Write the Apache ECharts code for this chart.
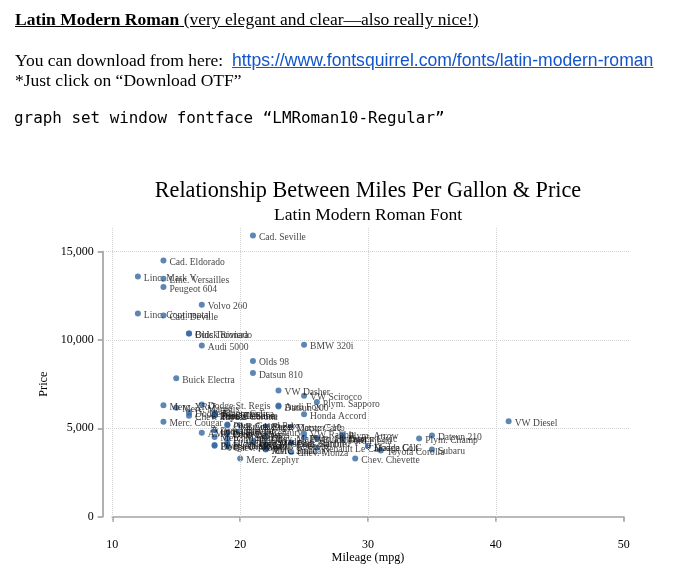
<!DOCTYPE html>
<html lang="en">
<head>
    <meta charset="UTF-8">
    <title>Relationship Between Miles Per Gallon & Price</title>
    <script src="https://cdn.jsdelivr.net/npm/echarts@6.0.0/dist/echarts.min.js"></script>
    <style>
        body {
            margin: 0;
            background: #ffffff;
        }

        #chart {
            position: absolute;
            left: 0;
            top: 0;
            width: 680px;
            height: 588px;
        }

        .note {
            position: absolute;
            left: 15px;
            z-index: 2;
            white-space: nowrap;
            color: #000;
            font-family: 'Liberation Serif', serif;
            font-size: 17.5px;
            line-height: 20px;
        }

        .note a {
            color: #1155cc;
            font-family: 'Liberation Sans', sans-serif;
            font-size: 17.6px;
        }

        .code {
            font-family: 'DejaVu Sans Mono', monospace;
            font-size: 15.9px;
            left: 14px;
        }
    </style>
</head>
<body>
    <div class="note" style="top: 9px; text-decoration: underline;"><b>Latin Modern Roman</b> (very elegant and clear—also really nice!)</div>
    <div class="note" style="top: 50px;">You can download from here:&nbsp; <a href="#">https://www.fontsquirrel.com/fonts/latin-modern-roman</a></div>
    <div class="note" style="top: 70px;">*Just click on “Download OTF”</div>
    <div class="note code" style="top: 108px;">graph set window fontface “LMRoman10-Regular”</div>

    <div id="chart"></div>

    <script>
        // auto data: make, mileage, price
        const makes = [
            'AMC Concord', 'AMC Pacer', 'AMC Spirit', 'Buick Century', 'Buick Electra',
            'Buick LeSabre', 'Buick Opel', 'Buick Regal', 'Buick Riviera', 'Buick Skylark',
            'Cad. Deville', 'Cad. Eldorado', 'Cad. Seville', 'Chev. Chevette', 'Chev. Impala',
            'Chev. Malibu', 'Chev. Monte Carlo', 'Chev. Monza', 'Chev. Nova', 'Dodge Colt',
            'Dodge Diplomat', 'Dodge Magnum', 'Dodge St. Regis', 'Ford Fiesta', 'Ford Mustang',
            'Linc. Continental', 'Linc. Mark V', 'Linc. Versailles', 'Merc. Bobcat', 'Merc. Cougar',
            'Merc. Marquis', 'Merc. Monarch', 'Merc. XR-7', 'Merc. Zephyr', 'Olds 98',
            'Olds Cutl Supr', 'Olds Cutlass', 'Olds Delta 88', 'Olds Omega', 'Olds Starfire',
            'Olds Toronado', 'Plym. Arrow', 'Plym. Champ', 'Plym. Horizon', 'Plym. Sapporo',
            'Plym. Volare', 'Pont. Catalina', 'Pont. Firebird', 'Pont. Grand Prix', 'Pont. Le Mans',
            'Pont. Phoenix', 'Pont. Sunbird', 'Audi 5000', 'Audi Fox', 'BMW 320i',
            'Datsun 200', 'Datsun 210', 'Datsun 510', 'Datsun 810', 'Fiat Strada',
            'Honda Accord', 'Honda Civic', 'Mazda GLC', 'Peugeot 604', 'Renault Le Car',
            'Subaru', 'Toyota Celica', 'Toyota Corolla', 'Toyota Corona', 'VW Dasher',
            'VW Diesel', 'VW Rabbit', 'VW Scirocco', 'Volvo 260'
        ];
        const mpg = [
            22, 17, 22, 20, 15, 18, 26, 20, 16, 19,
            14, 14, 21, 29, 16, 22, 22, 24, 19, 30,
            18, 16, 17, 28, 21, 12, 12, 14, 22, 14,
            15, 18, 14, 20, 21, 19, 19, 18, 19, 24,
            16, 28, 34, 25, 26, 18, 18, 18, 19, 19,
            19, 24, 17, 23, 25, 23, 35, 24, 21, 21,
            25, 28, 30, 14, 26, 35, 18, 31, 18, 23,
            41, 25, 25, 17
        ];
        const price = [
            4099, 4749, 3799, 4816, 7827, 5788, 4453, 5189, 10372, 4082,
            11385, 14500, 15906, 3299, 5705, 4504, 5104, 3667, 3955, 3984,
            4010, 5886, 6342, 4389, 4187, 11497, 13594, 13466, 3829, 5379,
            6165, 4516, 6303, 3291, 8814, 5172, 4733, 4890, 4181, 4195,
            10371, 4647, 4425, 4482, 6486, 4060, 5798, 4934, 5222, 4723,
            4424, 4172, 9690, 6295, 9735, 6229, 4589, 5079, 8129, 4296,
            5799, 4499, 3995, 12990, 3895, 3798, 5899, 3748, 5719, 7140,
            5397, 4697, 6850, 11995
        ];
        const xTicks = [10, 20, 30, 40, 50];
        const yTicks = [0, 5000, 10000, 15000];
        const xGrid = [10, 20, 30, 40];
        const yGrid = [5000, 10000, 15000];

        const W = 680, H = 588;
        const serif = "'Liberation Serif', serif";
        const axisGray = '#a3a3a3';

        // axis box: where the first and last ticks sit
        const ax = { left: 112.3, right: 623.7, top: 251.6, bottom: 516.7 };
        // plot region (a little larger than the tick range, as Stata does)
        const pr = { left: 106, right: 630, top: 227, bottom: 521 };

        const xLo = xTicks[0], xHi = xTicks[xTicks.length - 1];
        const yLo = yTicks[0], yHi = yTicks[yTicks.length - 1];
        const pxX = (ax.right - ax.left) / (xHi - xLo);
        const pxY = (ax.bottom - ax.top) / (yHi - yLo);

        const points = makes.map((m, i) => ({ name: m, value: [mpg[i], price[i]] }));

        const chart = echarts.init(document.getElementById('chart'), null, { renderer: 'canvas' });

        const option = {
            animation: false,
            backgroundColor: '#ffffff',
            textStyle: { fontFamily: serif },
            graphic: [
                {
                    type: 'text', x: (ax.left + ax.right) / 2, y: 191,
                    style: {
                        text: 'Relationship Between Miles Per Gallon & Price',
                        font: "22.2px 'Liberation Serif'", fill: '#000',
                        textAlign: 'center', textVerticalAlign: 'middle'
                    }
                },
                {
                    type: 'text', x: (ax.left + ax.right) / 2, y: 215,
                    style: {
                        text: 'Latin Modern Roman Font',
                        font: "17.5px 'Liberation Serif'", fill: '#000',
                        textAlign: 'center', textVerticalAlign: 'middle'
                    }
                }
            ],
            grid: [
                {   // plot region: points and grid lines
                    left: pr.left, right: W - pr.right, top: pr.top, bottom: H - pr.bottom,
                    outerBoundsMode: 'none'
                },
                {   // tick range: visible axes
                    left: ax.left, right: W - ax.right, top: ax.top, bottom: H - ax.bottom,
                    outerBoundsMode: 'none'
                }
            ],
            xAxis: [
                {
                    gridIndex: 0, type: 'value', show: false,
                    min: xLo - (ax.left - pr.left) / pxX,
                    max: xHi + (pr.right - ax.right) / pxX,
                    splitLine: { show: false }
                },
                {
                    gridIndex: 1, type: 'value', min: xLo, max: xHi, interval: 10,
                    offset: 9.3,
                    name: 'Mileage (mpg)', nameLocation: 'middle', nameGap: 26,
                    nameTextStyle: { fontFamily: serif, fontSize: 12.2, color: '#000' },
                    axisLine: { show: true, lineStyle: { color: axisGray, width: 1.7 } },
                    axisTick: { show: true, length: 5, lineStyle: { color: axisGray, width: 1.7 } },
                    axisLabel: { fontFamily: serif, fontSize: 12, color: '#000', margin: 13 },
                    splitLine: { show: false }
                }
            ],
            yAxis: [
                {
                    gridIndex: 0, type: 'value', show: false,
                    min: yLo - (pr.bottom - ax.bottom) / pxY,
                    max: yHi + (ax.top - pr.top) / pxY,
                    splitLine: { show: false }
                },
                {
                    gridIndex: 1, type: 'value', min: yLo, max: yHi, interval: 5000,
                    offset: 9.6,
                    name: 'Price', nameLocation: 'middle', nameGap: 53, nameRotate: 90,
                    nameTextStyle: { fontFamily: serif, fontSize: 12.2, color: '#000' },
                    axisLine: { show: true, lineStyle: { color: axisGray, width: 1.7 } },
                    axisTick: { show: true, length: 5, lineStyle: { color: axisGray, width: 1.7 } },
                    axisLabel: {
                        fontFamily: serif, fontSize: 12, color: '#000', margin: 9,
                        formatter: v => v.toLocaleString('en-US')
                    },
                    splitLine: { show: false }
                }
            ],
            series: [
                {
                    // grid lines
                    type: 'scatter', xAxisIndex: 0, yAxisIndex: 0, data: [], z: 1,
                    markLine: {
                        silent: true, symbol: ['none', 'none'], animation: false,
                        label: { show: false },
                        lineStyle: { type: 'dotted', color: '#d2d2d2', width: 1 },
                        data: xGrid.map(v => ({ xAxis: v })).concat(yGrid.map(v => ({ yAxis: v })))
                    }
                },
                {
                    type: 'scatter', xAxisIndex: 0, yAxisIndex: 0, z: 3,
                    data: points,
                    symbol: 'circle', symbolSize: 6,
                    itemStyle: { color: '#3468a2' },
                    label: {
                        show: true, position: 'right', distance: 3, offset: [0, 2],
                        formatter: '{b}', fontFamily: serif, fontSize: 9.6, color: '#111'
                    },
                    emphasis: { disabled: true }
                }
            ]
        };

        chart.setOption(option);
    </script>
</body>
</html>
